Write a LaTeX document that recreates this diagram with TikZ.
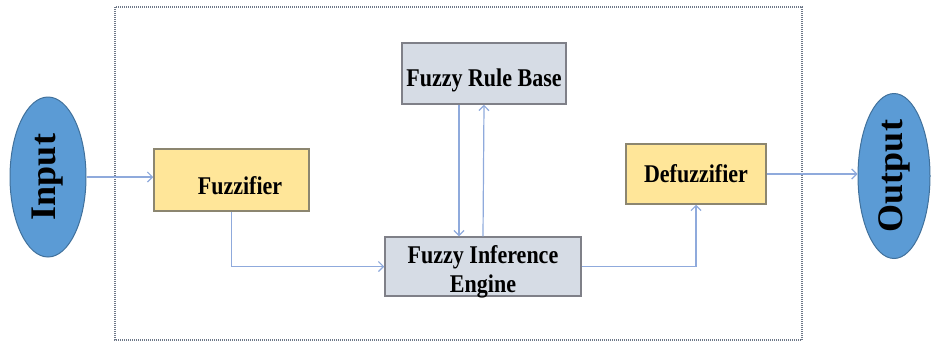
\documentclass[tikz,border=0pt]{standalone}
\usepackage{fontspec}
\setmainfont{Liberation Serif}
\newfontfamily\boxfont[FakeStretch=0.863]{Liberation Serif}
\usetikzlibrary{arrows.meta,shapes.geometric}
\definecolor{yfill}{HTML}{FFE699}
\definecolor{ydraw}{HTML}{8C8670}
\definecolor{gfill}{HTML}{D6DCE5}
\definecolor{gdraw}{HTML}{7F8088}
\definecolor{efill}{HTML}{5B9BD5}
\definecolor{edraw}{HTML}{41719C}
\definecolor{arrc}{HTML}{8FAADC}
\definecolor{framec}{HTML}{6E7888}
\tikzset{
  box/.style={draw, line width=1.5pt, rectangle, inner sep=0pt,
    font=\boxfont\fontsize{25.5}{29}\selectfont\bfseries},
  ybox/.style={box, fill=yfill, draw=ydraw},
  gbox/.style={box, fill=gfill, draw=gdraw},
  term/.style={ellipse, draw=edraw, line width=1pt, fill=efill, inner sep=0pt,
    rotate=90, font=\fontsize{36}{40}\selectfont\bfseries},
  arr/.style={draw=arrc, line width=1.2pt, -{Straight Barb[length=5pt,width=10pt]}},
}
\begin{document}
\begin{tikzpicture}[x=1pt,y=-1pt]
\useasboundingbox (0,0) rectangle (932,341);
\draw[framec, line width=1.1pt, dash pattern=on 1pt off 1pt] (115,7) rectangle (802,340);
\node[term, minimum width=160pt, minimum height=76pt] (in) at (48,177) {Input};
\node[term, minimum width=165pt, minimum height=72pt] (out) at (894,176) {Output};
\node[ybox, minimum width=155pt, minimum height=62pt, text height=28pt, text depth=0pt] (fz) at (231.5,180) {\hspace*{17pt}Fuzzifier};
\node[ybox, minimum width=140pt, minimum height=60pt, text height=16pt, text depth=0pt] (dfz) at (696,174) {Defuzzifier};
\node[gbox, minimum width=164pt, minimum height=61pt, text height=25pt, text depth=0pt] (frb) at (484,73.5) {Fuzzy Rule Base};
\node[gbox, minimum width=196pt, minimum height=59pt, text height=20pt, text depth=27pt] (fie) at (483,266.5)
  {\begin{tabular}[t]{@{}c@{}}Fuzzy Inference\\Engine\end{tabular}};
\coordinate (dn) at ([xshift=-25pt]frb.south);
\draw[arr] (in) -- (fz.west |- in);
\draw[arr] (fz.south) |- (fie.west);
\draw[arr] (dn) -- (dn |- fie.north);
\draw[arr] (fie.north) -- (frb.south);
\draw[arr] (fie.east) -| (dfz.south);
\draw[arr] (dfz.east) -- (dfz.east -| out.north);
\end{tikzpicture}
\end{document}
